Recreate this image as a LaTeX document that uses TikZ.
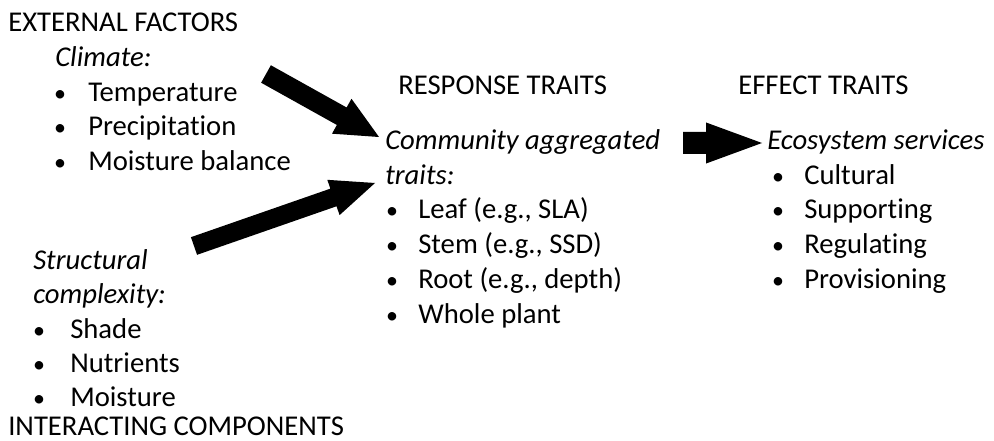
\documentclass[tikz,border=0pt]{standalone}
\usepackage{fontspec}
\setmainfont{Carlito}[Ligatures={NoCommon,NoContextual}]
\usetikzlibrary{calc}
\tikzset{
  txt/.style={anchor=base west, inner sep=0pt, font=\fontsize{21.5}{24}\selectfont},
  itxt/.style={txt, font=\fontsize{21.5}{24}\selectfont\itshape},
  bul/.style={anchor=base, inner sep=0pt, font=\fontsize{18}{20}\selectfont},
}
\newcommand\blockarrow[5]{%
  \path ($(#2)!#5!(#1)$) coordinate (hb);
  \fill[black] ($(#1)!#3!90:(#2)$) -- ($(hb)!#3!90:(#2)$) -- ($(hb)!#4!90:(#2)$) -- (#2)
     -- ($(hb)!#4!-90:(#2)$) -- ($(hb)!#3!-90:(#2)$) -- ($(#1)!#3!-90:(#2)$) -- cycle;
}
\begin{document}
\begin{tikzpicture}[x=0.75pt,y=-0.75pt]
\useasboundingbox (0,0) rectangle (994,441);
% external factors
\node[txt] (ef) at (8,32) {EXTERNAL FACTORS};
\node[itxt] (cl) at (55,67) {Climate:};
\node[bul] (b1) at (60,102) {•}; \node[txt] (t1) at (88,102) {Temperature};
\node[bul] (b2) at (60,136) {•}; \node[txt] (t2) at (88,136) {Precipitation};
\node[bul] (b3) at (60,171) {•}; \node[txt] (t3) at (88,171) {Moisture balance};
% structural
\node[itxt] (st1) at (33,269) {Structural};
\node[itxt] (st2) at (33,303) {complexity:};
\node[bul] (b4) at (39,338) {•}; \node[txt] (s1) at (70,338) {Shade};
\node[bul] (b5) at (39,372) {•}; \node[txt] (s2) at (70,372) {Nutrients};
\node[bul] (b6) at (39,406) {•}; \node[txt] (s3) at (70,406) {Moisture};
\node[txt] (ic) at (8,435) {INTERACTING COMPONENTS};
% response
\node[txt] (rt) at (398,95) {RESPONSE TRAITS};
\node[itxt] (ca1) at (385,150) {Community aggregated};
\node[itxt] (ca2) at (385,185) {traits:};
\node[bul] (b7) at (392,219) {•}; \node[txt] (r1) at (418,219) {Leaf (e.g., SLA)};
\node[bul] (b8) at (392,254) {•}; \node[txt] (r2) at (418,254) {Stem (e.g., SSD)};
\node[bul] (b9) at (392,288) {•}; \node[txt] (r3) at (418,288) {Root (e.g., depth)};
\node[bul] (b10) at (392,323) {•}; \node[txt] (r4) at (418,323) {Whole plant};
% effect
\node[txt] (et) at (738,95) {EFFECT TRAITS};
\node[itxt] (es) at (767,150) {Ecosystem services};
\node[bul] (b11) at (778,185) {•}; \node[txt] (e1) at (804,185) {Cultural};
\node[bul] (b12) at (778,219) {•}; \node[txt] (e2) at (804,219) {Supporting};
\node[bul] (b13) at (778,254) {•}; \node[txt] (e3) at (804,254) {Regulating};
\node[bul] (b14) at (778,288) {•}; \node[txt] (e4) at (804,288) {Provisioning};
% arrows
\coordinate (a1s) at (266,74); \coordinate (a1e) at (379,137);
\coordinate (a2s) at (194,246); \coordinate (a2e) at (375,183);
\coordinate (a3s) at (683,143); \coordinate (a3e) at (762,143);
\blockarrow{a1s}{a1e}{7.5pt}{15pt}{32pt}
\blockarrow{a2s}{a2e}{7pt}{14pt}{33pt}
\blockarrow{a3s}{a3e}{8.25pt}{15.4pt}{42pt}
\end{tikzpicture}
\end{document}
